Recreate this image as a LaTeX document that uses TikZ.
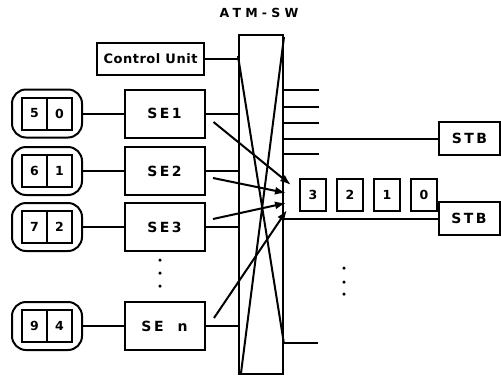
\documentclass[tikz,border=0pt]{standalone}
\usepackage{fontspec}
\newfontfamily\lblfont[LetterSpace=18]{DejaVu Sans}
\newfontfamily\cufont[LetterSpace=4]{DejaVu Sans}
\newfontfamily\ttlfont[LetterSpace=34]{DejaVu Sans}
\usetikzlibrary{positioning, arrows.meta, calc}
\tikzset{>={Latex[length=11pt,width=8pt]}}
\tikzset{
    blk/.style={draw, line width=2pt, inner sep=0pt, font=\lblfont\bfseries\fontsize{14}{16}\selectfont},
    sebox/.style={blk, minimum width=80pt, minimum height=48pt},
    cell/.style={blk, minimum width=25pt, minimum height=32pt, font=\lblfont\bfseries\fontsize{12.5}{14}\selectfont},
    term/.style={draw, line width=2pt, rounded corners=14pt, minimum width=70pt, minimum height=48pt},
    stbbox/.style={blk, minimum width=61pt, minimum height=33pt},
    dot/.style={fill, circle, inner sep=0pt, minimum size=3.5pt}
}

\begin{document}
\begin{tikzpicture}[x=1pt, y=-1pt, line width=2pt]
    \useasboundingbox (0,0) rectangle (501,376);

    % switch
    \node[font=\ttlfont\bfseries\fontsize{12.5}{14}\selectfont] (title) at (259,13) {ATM-SW};
    \node[draw, minimum width=44pt, minimum height=339pt] (sw) at (261,204.5) {};
    \draw 
    ([yshift=-22pt]sw.north west) -- ([yshift=31pt]sw.south east)
    ([yshift=-3pt]sw.north east) -- ([xshift=3pt, yshift=2pt]sw.south west)
    ;

    \node[blk, minimum width=107pt, minimum height=32pt, font=\cufont\bfseries\fontsize{13}{15}\selectfont] (cu) at (150.5,59) {Control Unit};
    \draw (cu.east) -- (cu.east -| sw.west);

    % subscriber side
    \node[sebox] (se1) at (164.5,113.5) {SE1};
    \node[sebox] (se2) at (164.5,171) {SE2};
    \node[sebox] (se3) at (164.5,227) {SE3};
    \node[sebox] (sen) at (164.5,326) {SE\hspace{14pt}n};

    \node[term] (t1) at (47,113.5) {};
    \node[cell] (t1a) at ([xshift=-12.5pt]t1.center) {5};
    \node[cell] (t1b) at ([xshift=12.5pt]t1.center) {0};
    \node[term] (t2) at (47,171) {};
    \node[cell] (t2a) at ([xshift=-12.5pt]t2.center) {6};
    \node[cell] (t2b) at ([xshift=12.5pt]t2.center) {1};
    \node[term] (t3) at (47,227) {};
    \node[cell] (t3a) at ([xshift=-12.5pt]t3.center) {7};
    \node[cell] (t3b) at ([xshift=12.5pt]t3.center) {2};
    \node[term] (tn) at (47,326) {};
    \node[cell] (tna) at ([xshift=-12.5pt]tn.center) {9};
    \node[cell] (tnb) at ([xshift=12.5pt]tn.center) {4};

    \draw
    (t1.east) -- (se1.west)
    (t2.east) -- (se2.west)
    (t3.east) -- (se3.west)
    (tn.east) -- (sen.west)
    (se1.east) -- (se1.east -| sw.west)
    (se2.east) -- (se2.east -| sw.west)
    (se3.east) -- (se3.east -| sw.west)
    (sen.east) -- (sen.east -| sw.west)
    ;

    \node[dot] (d1) at (160,260) {};
    \node[dot] (d2) at (160,273) {};
    \node[dot] (d3) at (160,286) {};

    % output side
    \node[stbbox] (stb1) at (469.5,138.5) {STB};
    \node[stbbox] (stb2) at (469,218.5) {STB};
    \coordinate (o1) at (319,90);
    \coordinate (o2) at (319,107);
    \coordinate (o3) at (319,123);
    \coordinate (o4) at (319,154);
    \coordinate (o5) at (318,343);
    \draw
    (o1 -| sw.east) -- (o1)
    (o2 -| sw.east) -- (o2)
    (o3 -| sw.east) -- (o3)
    (o4 -| sw.east) -- (o4)
    (o5 -| sw.east) -- (o5)
    (stb1.west -| sw.east) -- (stb1.west)
    (stb2.west -| sw.east) -- (stb2.west)
    ;

    \node[cell, minimum width=26pt] (q3) at (313,195) {3};
    \node[cell, minimum width=26pt, right=9pt of q3] (q2) {2};
    \node[cell, minimum width=26pt, right=9pt of q2] (q1) {1};
    \node[cell, minimum width=26pt, right=9pt of q1] (q0) {0};

    \node[dot] (d4) at (344,268) {};
    \node[dot] (d5) at (344,282) {};
    \node[dot] (d6) at (344,294) {};

    % cells into the queue
    \draw[->] ([shift={(8,8.5)}]se1.east) -- ([shift={(-8,-10)}]q3.west);
    \draw[->] ([shift={(7.5,7)}]se2.east) -- ([shift={(-13,-2)}]q3.west);
    \draw[->] ([shift={(7.5,-8)}]se3.east) -- ([shift={(-13,8)}]q3.west);
    \draw[->] ([shift={(8.5,-8)}]sen.east) -- ([shift={(-12,15)}]q3.west);

\end{tikzpicture}
\end{document}
